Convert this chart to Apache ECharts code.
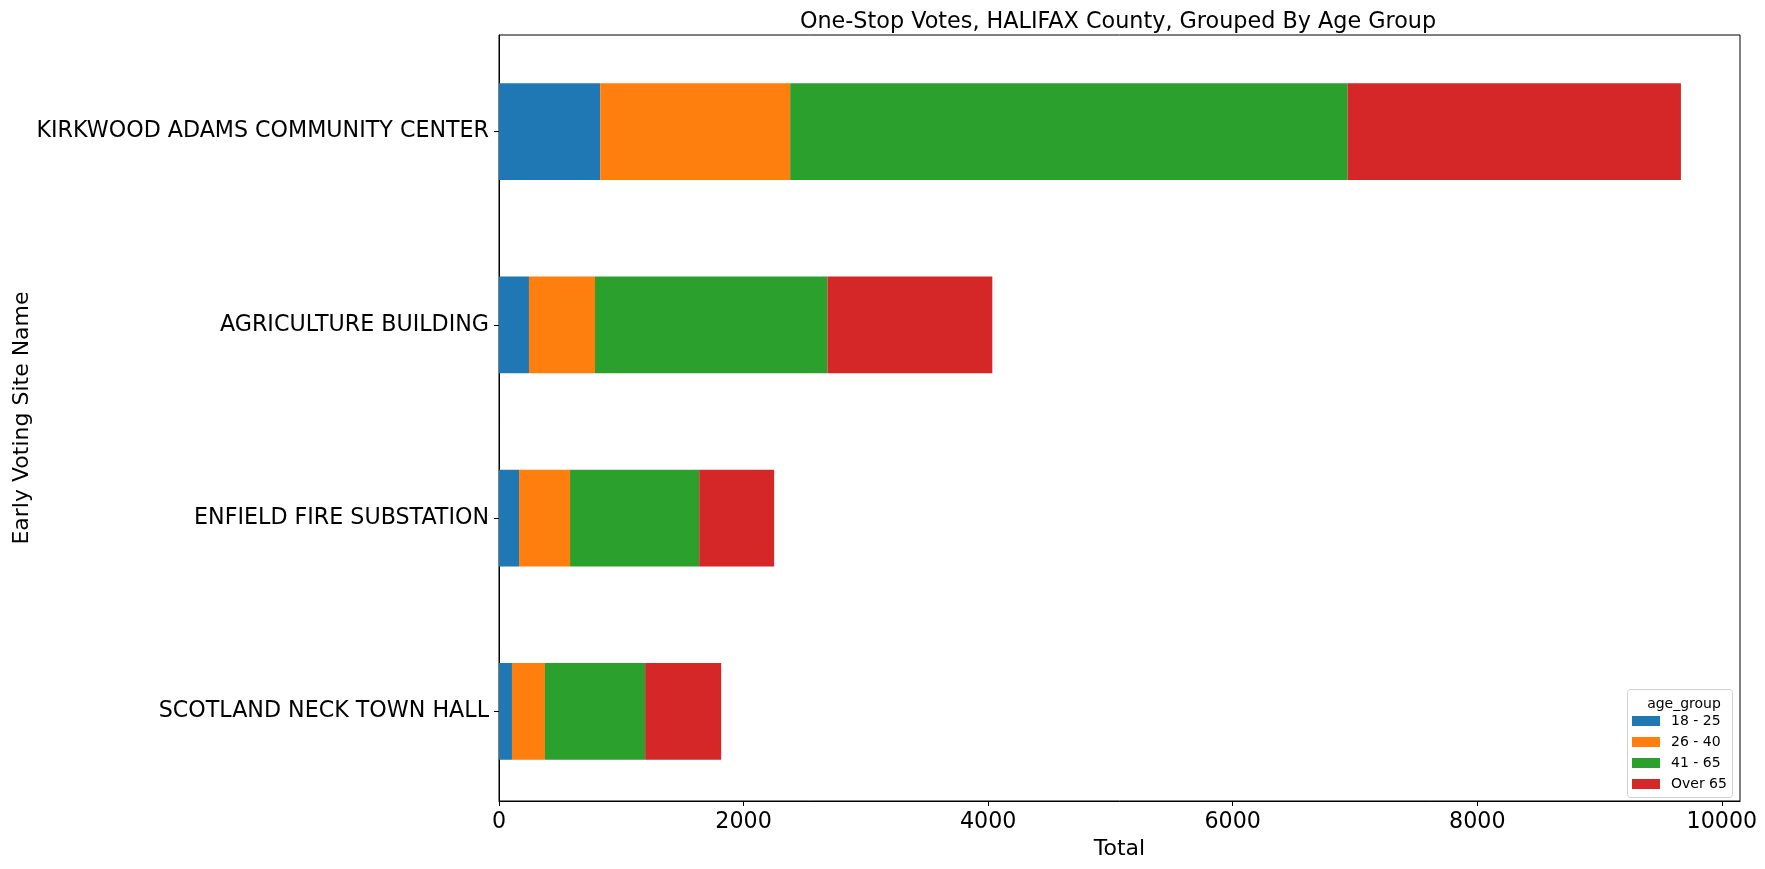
<!DOCTYPE html>
<html>
<head>
<meta charset="utf-8">
<script src="https://cdn.jsdelivr.net/npm/echarts@6/dist/echarts.min.js"></script>
<style>
html,body{margin:0;padding:0;background:#fff;}
#chart{width:1765px;height:869px;}
</style>
</head>
<body>
<div id="chart"></div>
<script>
// Categories listed bottom-to-top (ECharts category y axis starts at the bottom)
const sites = ['SCOTLAND NECK TOWN HALL', 'ENFIELD FIRE SUBSTATION', 'AGRICULTURE BUILDING', 'KIRKWOOD ADAMS COMMUNITY CENTER'];
const ageGroups = ['18 - 25', '26 - 40', '41 - 65', 'Over 65'];
const age18to25 = [106, 164, 245, 828];
const age26to40 = [270, 417, 540, 1553];
const age41to65 = [819, 1056, 1901, 4559];
const ageOver65 = [622, 613, 1348, 2725];
const xTicks = [0, 2000, 4000, 6000, 8000, 10000];

const seriesValues = [age18to25, age26to40, age41to65, ageOver65];
const colors = ['#1f77b4', '#ff7f0e', '#2ca02c', '#d62728'];
const FONT = 'DejaVu Sans';
const X_MAX = 10148;

const chart = echarts.init(document.getElementById('chart'), null, {renderer: 'canvas'});
chart.setOption({
  backgroundColor: '#ffffff',
  animation: false,
  title: [{
    text: 'One-Stop Votes, HALIFAX County, Grouped By Age Group',
    left: 1113, top: 6, textAlign: 'center',
    textStyle: {fontFamily: FONT, fontSize: 22.3, fontWeight: 'normal', color: '#000'}
  }, {
    text: 'age_group',
    left: 1679, top: 692, textAlign: 'center',
    textStyle: {fontFamily: FONT, fontSize: 14, fontWeight: 'normal', color: '#000'}
  }],
  graphic: [{
    type: 'rect', left: 1627, top: 689, z: 0,
    shape: {width: 105, height: 108, r: 3},
    style: {fill: 'rgba(255,255,255,0.8)', stroke: '#d0d0d0', lineWidth: 1}
  }],
  legend: {
    data: ageGroups,
    orient: 'vertical',
    left: 1632, top: 714,
    itemWidth: 28, itemHeight: 10, itemGap: 7,
    icon: 'rect', padding: 0,
    textStyle: {fontFamily: FONT, fontSize: 14, color: '#000', padding: [0, 0, 0, 6]}
  },
  grid: [{
    // bars grid (category band layout)
    left: 499, right: 25, top: 35, bottom: 61,
    show: false, containLabel: false
  }, {
    // frame grid
    left: 499, right: 25, top: 35, bottom: 68,
    show: true, borderColor: '#000', borderWidth: 1, backgroundColor: 'transparent',
    containLabel: false
  }],
  xAxis: [{
    gridIndex: 0, type: 'value', min: 0, max: X_MAX,
    axisLine: {show: false}, axisTick: {show: false}, axisLabel: {show: false},
    splitLine: {show: false}
  }, {
    gridIndex: 1, type: 'value', min: 0, max: X_MAX, interval: 2000,
    name: 'Total', nameLocation: 'middle', nameGap: 36,
    nameTextStyle: {fontFamily: FONT, fontSize: 22, color: '#000'},
    axisLine: {show: true, lineStyle: {color: '#000', width: 1}},
    axisTick: {show: true, length: 5, lineStyle: {color: '#000'}, customValues: xTicks},
    axisLabel: {fontFamily: FONT, fontSize: 22.2, color: '#000', margin: 10,
      customValues: xTicks,
      formatter: v => (xTicks.indexOf(v) >= 0 ? String(v) : '')},
    splitLine: {show: false}
  }],
  yAxis: [{
    gridIndex: 0, type: 'category', data: sites,
    axisLine: {show: false},
    axisTick: {show: true, alignWithLabel: true, length: 5, lineStyle: {color: '#000'}},
    axisLabel: {fontFamily: FONT, fontSize: 22.2, color: '#000', margin: 10},
    splitLine: {show: false}
  }, {
    gridIndex: 1, type: 'value', min: 0, max: 1,
    name: 'Early Voting Site Name', nameLocation: 'middle', nameGap: 466, nameRotate: 90,
    nameTextStyle: {fontFamily: FONT, fontSize: 22, color: '#000'},
    axisLine: {show: true, lineStyle: {color: '#000', width: 1}},
    axisTick: {show: false}, axisLabel: {show: false},
    splitLine: {show: false}
  }],
  series: ageGroups.map((g, i) => ({
    name: g, type: 'bar', stack: 'total',
    xAxisIndex: 0, yAxisIndex: 0,
    data: seriesValues[i],
    barWidth: '50%',
    itemStyle: {color: colors[i]},
    emphasis: {disabled: true}
  }))
});
</script>
</body>
</html>
